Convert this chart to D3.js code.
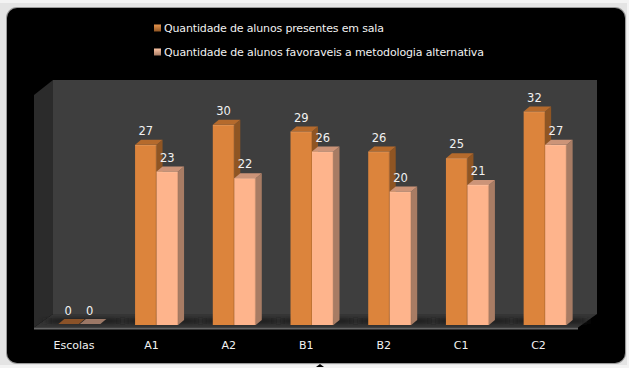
<!DOCTYPE html>
<html><head><meta charset="utf-8">
<script src="https://cdnjs.cloudflare.com/ajax/libs/d3/7.8.5/d3.min.js"></script>
<style>html,body{margin:0;padding:0;background:#f2f2f2;overflow:hidden}svg{display:block}text{font-family:"DejaVu Sans",sans-serif;fill:#f2f2f2}</style>
</head><body><svg id="c" width="629" height="368"></svg>
<script>
const categories=["Escolas","A1","A2","B1","B2","C1","C2"];
const seriesNames=["Quantidade de alunos presentes em sala","Quantidade de alunos favoraveis a metodologia alternativa"];
const presentes=[0,27,30,29,26,25,32];
const favoraveis=[0,23,22,26,20,21,27];
const svg=d3.select("#c"),defs=svg.append("defs");

// frame
svg.append("rect").attr("width",629).attr("height",368).attr("fill","#f3f3f3");
svg.append("rect").attr("x",0).attr("y",3).attr("width",627).attr("height",362).attr("fill","#e4e4e4");
svg.append("rect").attr("x",6).attr("y",7).attr("width",620).attr("height",357).attr("rx",11).attr("fill","#9a9a9a");
svg.append("rect").attr("x",7).attr("y",8).attr("width",618).attr("height",355).attr("fill","#000").attr("rx",10);
svg.append("path").attr("d","M316 367l4-3 4 3z").attr("fill","#000");

// scales
const x=d3.scaleBand().domain(categories).range([34.5,578.5]).paddingInner(0).paddingOuter(0);
const y=d3.scaleLinear().domain([0,32]).range([325,111.5]);
const DX=6,DY=5,W=21.5;
const barX=c=>x(c)+x.bandwidth()/2+5.5-W;

// walls and floor
const L=34,R=578,FB=327.5,BX=19,BY=13.5,TOP=95;
const poly=(pts,fill)=>svg.append("polygon").attr("points",pts.map(p=>p.join(",")).join(" ")).attr("fill",fill);
poly([[L+BX,TOP-15],[R+BX,TOP-15],[R+BX,FB-BY],[L+BX,FB-BY]],"#3e3e3e");
poly([[L,TOP],[L+BX,TOP-15],[L+BX,FB-BY],[L,FB]],"#2b2b2b");
poly([[L,FB],[L+BX,FB-BY],[R+BX,FB-BY],[R,FB]],"#353535");
poly([[L,FB],[R,FB],[R,FB+2],[L,FB+2]],"#666666");

// floor shadow
defs.append("filter").attr("id","bl").attr("x","-30%").attr("width","160%").attr("y","-100%").attr("height","300%")
  .append("feGaussianBlur").attr("stdDeviation","4 1.2");
svg.append("g").selectAll("rect").data(categories).join("rect")
  .attr("x",c=>barX(c)-10).attr("y",318).attr("width",2*W+30).attr("height",6)
  .attr("fill","#1c1c1c").attr("opacity",.75).attr("filter","url(#bl)");

// bars
const series=[
 {vals:presentes,off:0,front:"#dc843c",top:"#b56a2c",side:"#8f5523",flat:"#8a5228"},
 {vals:favoraveis,off:W,front:"#feb48c",top:"#cc9478",side:"#a87c64",flat:"#9c7866"}
];
series.forEach(s=>{
  const g=svg.append("g");
  categories.forEach((c,i)=>{
    const v=s.vals[i],x0=barX(c)+s.off,y0=y(v),yb=y(0);
    if(v===0){
      poly([[x0+1,yb-1],[x0+W,yb-1],[x0+W+DX,yb-1-DY],[x0+DX+1,yb-1-DY]],s.flat);
      return;
    }
    g.append("polygon").attr("points",`${x0+W},${y0} ${x0+W+DX},${y0-DY} ${x0+W+DX},${yb-DY} ${x0+W},${yb}`).attr("fill",s.side);
    g.append("polygon").attr("points",`${x0},${y0} ${x0+DX},${y0-DY} ${x0+W+DX},${y0-DY} ${x0+W},${y0}`).attr("fill",s.top);
    g.append("rect").attr("x",x0).attr("y",y0).attr("width",W).attr("height",yb-y0).attr("fill",s.front);
    g.append("line").attr("x1",x0+W-.5).attr("x2",x0+W-.5).attr("y1",y0).attr("y2",yb).attr("stroke","#000").attr("stroke-opacity",.12);
    g.append("line").attr("x1",x0).attr("x2",x0+W).attr("y1",y0+.5).attr("y2",y0+.5).attr("stroke","#fff").attr("stroke-opacity",.12);
  });
});

// value labels
series.forEach(s=>{
  svg.append("g").selectAll("text").data(categories).join("text")
    .attr("x",c=>barX(c)+s.off+W/2)
    .attr("y",(c,i)=>y(s.vals[i])-10)
    .attr("text-anchor","middle").attr("font-size",11.5)
    .text((c,i)=>s.vals[i]);
});

// category axis
const axis=d3.axisBottom(d3.scalePoint().domain(categories).range([73.5,538])).tickSize(0).tickPadding(0);
const ag=svg.append("g").attr("transform","translate(0,341)").call(axis);
ag.select(".domain").remove();
ag.selectAll("text").attr("font-size",11).attr("font-family",'"DejaVu Sans",sans-serif').attr("fill","#f2f2f2");

// legend
const sw=[["#e8944c","#8f5523"],["#fcc4a4","#a87c64"]];
seriesNames.forEach((n,i)=>{
  const ly=28+i*24;
  const id="lg"+i;
  const gr=defs.append("linearGradient").attr("id",id).attr("x1",0).attr("y1",0).attr("x2",0).attr("y2",1);
  gr.append("stop").attr("offset",0).attr("stop-color",sw[i][0]);
  gr.append("stop").attr("offset",1).attr("stop-color",sw[i][1]);
  svg.append("rect").attr("x",154).attr("y",ly-3.5).attr("width",7).attr("height",7).attr("fill",`url(#${id})`);
  svg.append("text").attr("x",164).attr("y",ly+4).attr("font-size",11).attr("textLength",i===0?220:320).text(n);
});
</script></body></html>
